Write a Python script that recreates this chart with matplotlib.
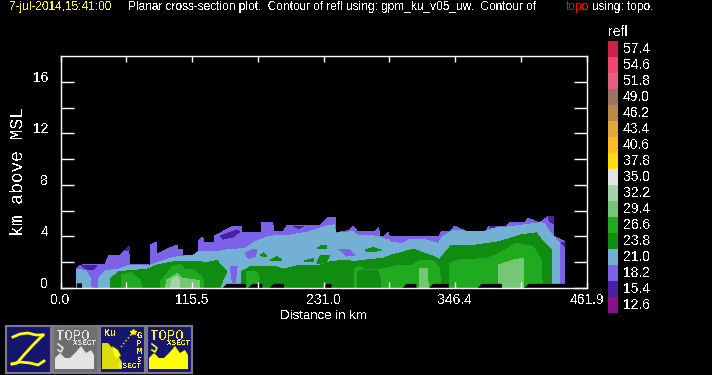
import matplotlib
matplotlib.use('Agg')
import matplotlib.pyplot as plt
from matplotlib.patches import Rectangle, Polygon

plt.rcParams['font.family'] = ['Liberation Sans', 'DejaVu Sans']
plt.rcParams['text.antialiased'] = False

# ---- legend ----
LEVEL_LABELS = ["57.4", "54.6", "51.8", "49.0", "46.2", "43.4", "40.6", "37.8", "35.0",
                "32.2", "29.4", "26.6", "23.8", "21.0", "18.2", "15.4", "12.6"]
LEVEL_COLORS = ["#cc2244", "#f04672", "#e0607e", "#a07060", "#bc8848", "#e0a838", "#ffbb22", "#ffdd11",
                "#e4e4e4", "#a6d4a6", "#74c874", "#20aa20", "#108c10", "#74b0d4", "#7b62e6", "#4a20a0", "#8b108b"]

# ---- axes ----
X_MAX = 461.9
Y_MAX = 18.0
X_TICKS = [0.0, 57.7, 115.5, 173.2, 231.0, 288.7, 346.4, 404.2, 461.9]
X_TICK_LABELS = ["0.0", "", "115.5", "", "231.0", "", "346.4", "", "461.9"]
Y_TICKS = [0, 2, 4, 6, 8, 10, 12, 14, 16]
Y_TICK_LABELS = ["0", "", "4", "", "8", "", "12", "", "16"]

# ---- reflectivity regions, (distance km, height km) outlines ----
REFL_182 = [(14, 0), (14, 1.45), (17.5, 1.78), (39.4, 1.85), (42.4, 2.56), (52.6, 2.56), (59.9, 3.2), (60.5, 1.85),
            (78.9, 1.78), (78.9, 3.33), (83.9, 3.53), (84.2, 2.6), (95, 3.07), (102.3, 3.33), (102.9, 2.95),
            (106.7, 2.95), (106.7, 2.56), (118.3, 2.56), (121.3, 2.9), (121.3, 3.67), (125, 3.95), (125.6, 3.5),
            (135, 3.5), (135, 4.03), (152, 4.81), (158.7, 4.81), (158.7, 4.3), (176.8, 4.3), (176.8, 5.12),
            (186.4, 5.12), (187, 4.4), (195.8, 4.4), (198.7, 4.81), (227.9, 4.88), (235.2, 5.48), (241.9, 5.48),
            (241.9, 4.29), (252.7, 4.44), (257.1, 4.81), (260.6, 4.37), (276.1, 4.37), (279.6, 4.7), (279.9, 4.03),
            (284.9, 4.03), (287.8, 4.34), (288.7, 4.03), (332.5, 4.03), (334.6, 4.37), (341.9, 4.37), (346.2, 4.81),
            (356.5, 4.37), (372.5, 4.37), (376.9, 4.81), (391.5, 4.81), (394.5, 5.06), (407.6, 5.06), (410.5, 5.4),
            (420.8, 5.06), (428.1, 5.53), (432.4, 5.53), (433, 4.03), (442.7, 3.59), (442.7, 0)]
REFL_154_PATCHES = [
    [(18.1, 1.78), (32, 1.78), (28, 1.4), (22, 1.5)],
    [(57, 2.95), (60.5, 3.25), (60.5, 2.9)],
    [(140.3, 4.03), (154.9, 4.5), (157.2, 4.37), (152, 3.98), (143.2, 3.8)],
    [(204.5, 4.81), (213.3, 4.81), (208.9, 4.6)],
    [(376.9, 4.81), (382.8, 4.81), (378.4, 4.6)],
    [(428.1, 5.53), (433, 5.53), (433, 5.01), (429.5, 5.14)],
    [(439.8, 3.59), (442.7, 3.59), (442.7, 3.2)],
]
REFL_210_LEFT = [(14, 0), (14, 1.4), (18, 1.4), (22, 1.35), (26.3, 0.75), (26.9, 0)]
REFL_210 = [(33, 0), (33.6, 0.75), (39.4, 1.35), (51, 1.45), (60.5, 1.78), (76, 1.7), (87.7, 2.04), (99.4, 2.38),
            (116.9, 2.56), (121.3, 2.82), (137.3, 2.82), (146, 2.95), (162, 3.07), (171, 3.59), (184, 4.03),
            (198.7, 4.05), (219, 4.37), (227.9, 4.63), (233.7, 4.81), (241, 4.9), (241.1, 4.24), (257.1, 4.37),
            (260.6, 4.1), (276.1, 4.03), (287.8, 3.72), (290.7, 3.52), (301, 3.46), (306.8, 3.77), (318.5, 3.77),
            (331.6, 3.46), (336, 4.03), (346.2, 4.5), (357.9, 4.37), (374, 4.37), (379.8, 4.63), (394.5, 4.75),
            (420.8, 5.06), (425, 5.0), (428.1, 4.5), (432.4, 4.03), (438.3, 3.46), (438.3, 0)]
REFL_182_HOLES = [
    [(162.2, 2.69), (168, 2.95), (172.4, 2.95), (170.9, 2.43), (165.1, 2.3)],
    [(149, 1.65), (155, 1.65), (153.5, 0.4), (151, 0.4)],
    [(245.4, 2.95), (252.7, 3.0), (258.6, 2.56), (251, 2.48)],
]
REFL_238_A = [(43.8, 0), (43.8, 0.67), (51, 1.27), (76, 1.45), (84.7, 1.78), (99.4, 2.04), (111, 2.09), (128.6, 1.99),
              (137.3, 2.12), (146, 1.27), (140.3, 0.15), (140.3, 0)]
REFL_238_B = [(159.3, 0), (159.3, 1.27), (166.6, 1.65), (187, 1.7), (195.8, 1.45), (210.4, 1.78), (227.9, 1.78),
              (236.7, 2.04), (251.3, 2.17), (257.1, 2.04), (268.8, 2.17), (283.4, 2.3), (290.7, 2.56), (309.7, 3.0),
              (324.3, 2.56), (333, 2.22), (343.3, 3.33), (365.2, 3.33), (385.7, 3.59), (403.2, 4.1), (417.8, 4.28),
              (423.7, 3.59), (431, 2.95), (431, 0)]
REFL_238_ISLANDS = [
    [(175.3, 2.5), (178, 2.72), (181.2, 2.45)],
    [(184.7, 2.2), (190, 2.43), (194.3, 2.17), (184.7, 2.1)],
    [(213.9, 2.1), (222, 2.3), (222, 2.04)],
    [(226, 3.1), (229, 3.3), (234, 3.3), (233, 3.05)],
    [(225, 1.95), (228, 2.5), (236, 2.5), (233, 2.0), (227, 1.9)],
    [(268.2, 2.95), (274.7, 3.15), (282, 2.9), (268.8, 2.82)],
]
REFL_266_PARTS = [
    [(54, 0), (54, 1.01), (61.4, 1.19), (70.1, 0.62), (71, 0)],
    [(87.7, 0), (87.7, 0.49), (97.9, 1.66), (105.2, 1.79), (109.6, 1.4), (115.4, 1.47), (122.7, 1.01), (125.6, 0.62), (125.6, 0)],
    [(163, 0), (163, 1.27), (172.4, 1.27), (174.7, 0.75), (172.4, 0.36)],
    [(258.6, 0), (258.6, 1.55), (263, 1.65), (268.8, 1.4), (280.5, 1.45), (295, 1.71), (309.7, 1.78), (315.6, 2.17),
     (327.2, 2.17), (333, 1.5), (333.7, 0)],
    [(341.3, 0), (341.3, 1.91), (350.6, 2.17), (374, 2.3), (382.8, 2.56), (400.3, 3.46), (414.9, 3.2), (422.2, 2.17), (423.1, 0)],
]
REFL_238_INNER = [(261, 0), (261, 1.25), (265, 1.4), (278, 1.35), (281, 0.75), (281, 0)]
REFL_294_PARTS = [
    [(92, 0), (93.5, 0.62), (102.3, 1.09), (106.7, 0.75), (118.3, 0.62), (122, 0.62), (122, 0)],
    [(315.6, 0), (315.6, 1.52), (322, 1.52), (323, 0)],
    [(385, 0), (384.2, 1.78), (397.4, 2.17), (406.7, 2.3), (406.7, 0)],
]
REFL_322 = [(96.4, 0), (97.9, 0.62), (102.3, 0.88), (104.6, 0.62), (104.6, 0)]

# ---- topo mask along the ground ----
TOPO_X = [14, 18.4, 18.5, 141.4, 145.5, 162.5, 162.6, 163.6, 168.3, 176.8, 176.9, 182.6, 187, 195.8, 195.9,
          231, 233, 237.5, 237.6, 299.5, 303.3, 312, 312.1, 322.9, 326.7, 340.4, 340.5, 365.2, 369.6, 387.1, 387.2,
          406.1, 410.5, 442.7, 442.8]
TOPO_H = [0.4, 0.4, 0, 0, 0.36, 0.36, 0, 0, 0.36, 0.36, 0, 0, 0.36, 0.36, 0,
          0, 0.36, 0.36, 0, 0, 0.36, 0.36, 0, 0, 0.36, 0.36, 0, 0, 0.36, 0.36, 0,
          0, 0.36, 0.36, 0]


def color_of(label):
    return LEVEL_COLORS[LEVEL_LABELS.index(label)]


def draw_region(ax, outline, label):
    ax.add_patch(Polygon(outline, closed=True, facecolor=color_of(label), edgecolor='none', antialiased=False))


def draw_icons(ov):
    navy = "#16166e"
    edge = "#7a7a8a"
    yellow = "#ffff00"
    for left, face in zip([5, 52, 99, 146], [navy, "#6e6e6e", navy, navy]):
        ov.add_patch(Rectangle((left + 0.5, 325.5), 45, 47, facecolor=face, edgecolor=edge, linewidth=1.5))
    # Z icon
    ov.plot([13, 20, 28, 36, 43], [337, 334, 333, 335, 335], color=yellow, lw=2)
    ov.plot([43, 33, 23, 17, 12], [335, 345, 356, 363, 364], color=yellow, lw=2)
    ov.plot([12, 20, 30, 38, 44], [364, 362, 363, 365, 361], color=yellow, lw=2)
    # topo icons
    for left, fg in [(52, "#e4e4e4"), (146, yellow)]:
        ov.text(left + 21, 336, "TOPO", color=fg, fontsize=10, ha='center', va='center', family='Liberation Mono')
        ov.text(left + 33, 343.5, "XSECT", color=fg, fontsize=5.5, ha='center', va='center',
                family='Liberation Mono', fontweight='bold')
        outline = [(3, 369), (3, 358), (8, 353), (13, 358), (18, 358), (24, 352), (29, 346), (34, 353), (39, 350),
                   (42, 355), (42, 369)]
        ov.add_patch(Polygon([(left + px, py) for px, py in outline], closed=True, facecolor=fg, edgecolor='none'))
        ov.plot([left + 6, left + 11, left + 9, left + 6], [344, 348, 352, 350], color=fg, lw=1.2)
    # GPM icon
    ov.text(110, 333, "Ku", color=yellow, fontsize=7, ha='center', va='center', family='Liberation Mono', fontweight='bold')
    ov.add_patch(Polygon([(102, 343), (108, 343), (116, 352), (122, 362), (122, 369), (102, 369)], closed=True,
                         facecolor=yellow, edgecolor='none', hatch='....', alpha=0.85))
    ov.add_patch(Polygon([(112, 346), (118, 350), (121, 356), (115, 358)], closed=True, facecolor=yellow, edgecolor='none'))
    ov.plot([121, 133], [347, 332], color=yellow, lw=1, linestyle=':')
    ov.plot([133], [332], marker='*', color=yellow, ms=4)
    for i, ch in enumerate("GPM"):
        ov.text(139, 336 + i * 7.5, ch, color=yellow, fontsize=6.5, ha='center', va='center', family='Liberation Mono', fontweight='bold')
    ov.text(139, 360, "5", color=yellow, fontsize=5, ha='center', va='center', family='Liberation Mono', fontweight='bold')
    ov.text(130, 367, "XSECT", color=yellow, fontsize=5.5, ha='center', va='center', family='Liberation Mono', fontweight='bold')


def main():
    fig = plt.figure(figsize=(7.12, 3.75), dpi=100, facecolor='black')
    ax = fig.add_axes([60.5 / 712, (375 - 288) / 375, 526 / 712, 232 / 375], facecolor='black')

    draw_region(ax, REFL_182, "18.2")
    for patch in REFL_154_PATCHES:
        draw_region(ax, patch, "15.4")
    draw_region(ax, REFL_210_LEFT, "21.0")
    draw_region(ax, REFL_210, "21.0")
    for hole in REFL_182_HOLES[:1] + REFL_182_HOLES[2:]:
        draw_region(ax, hole, "18.2")
    draw_region(ax, REFL_238_A, "23.8")
    draw_region(ax, REFL_238_B, "23.8")
    draw_region(ax, REFL_182_HOLES[1], "18.2")
    for island in REFL_238_ISLANDS:
        draw_region(ax, island, "23.8")
    for part in REFL_266_PARTS:
        draw_region(ax, part, "26.6")
    draw_region(ax, REFL_238_INNER, "23.8")
    for part in REFL_294_PARTS:
        draw_region(ax, part, "29.4")
    draw_region(ax, REFL_322, "32.2")
    ax.fill_between(TOPO_X, 0, TOPO_H, color='black', linewidth=0, antialiased=False)

    ax.set_xlim(0, X_MAX)
    ax.set_ylim(0, Y_MAX)
    ax.set_xticks(X_TICKS)
    ax.set_xticklabels(X_TICK_LABELS, fontsize=10, color='white')
    ax.set_yticks(Y_TICKS)
    ax.set_yticklabels(Y_TICK_LABELS, fontsize=10, color='white', va='baseline')
    ax.tick_params(axis='x', direction='in', length=4.3, width=1, color='white', top=True, pad=3.5)
    ax.tick_params(axis='y', direction='in', length=9.4, width=1, color='white', right=True, pad=9)
    for spine in ax.spines.values():
        spine.set_color('white')
        spine.set_linewidth(1)
    ax.set_xlabel("Distance in km", fontsize=9.5, color='white', labelpad=2)

    # overlay in image pixels for everything outside the plot box
    ov = fig.add_axes([0, 0, 1, 1], facecolor='none')
    ov.set_xlim(0, 712)
    ov.set_ylim(375, 0)
    ov.axis('off')

    ov.text(19, 172, "km above MSL", rotation=90, color='white', fontsize=13, ha='center', va='center',
            family='Liberation Mono')

    ov.text(9, 7, "7-jul-2014,15:41:00", color='#ffff00', fontsize=8.6, va='center')
    ov.text(128, 7, "Planar cross-section plot.  Contour of refl using: gpm_ku_v05_uw.  Contour of",
            color='white', fontsize=8.6, va='center')
    ov.text(566, 7, "topo", color='#ff0000', fontsize=8.6, va='center')
    ov.text(592, 7, "using: topo.", color='white', fontsize=8.6, va='center')

    ov.text(608, 32, "refl", color='white', fontsize=10, va='center')
    for i, (label, col) in enumerate(zip(LEVEL_LABELS, LEVEL_COLORS)):
        ov.add_patch(Rectangle((608, 41 + i * 16), 10, 16, facecolor=col, edgecolor='none', antialiased=False))
        ov.text(623, 49 + i * 16, label, color='white', fontsize=10, va='center')

    draw_icons(ov)

    fig.savefig('out.png', dpi=100, facecolor='black')


if __name__ == '__main__':
    main()
